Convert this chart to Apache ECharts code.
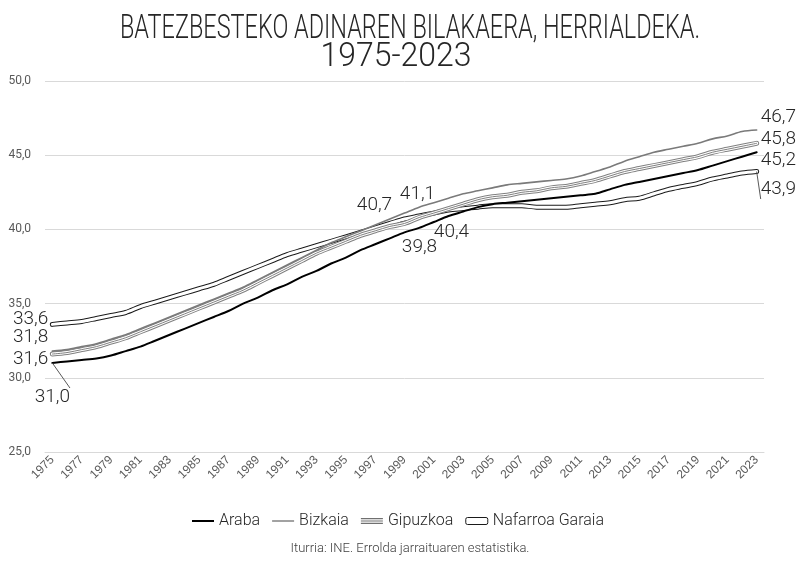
<!DOCTYPE html>
<html>
<head>
<meta charset="utf-8">
<title>Batezbesteko adinaren bilakaera</title>
<script src="https://cdn.jsdelivr.net/npm/echarts@6/dist/echarts.min.js"></script>
<style>
  html, body { margin: 0; padding: 0; background: #fff; }
  #main { width: 796px; height: 561px; }
</style>
</head>
<body>
<div id="main"></div>
<script>
// Urteak
const years = ['1975','1976','1977','1978','1979','1980','1981','1982','1983','1984',
  '1985','1986','1987','1988','1989','1990','1991','1992','1993','1994',
  '1995','1996','1997','1998','1999','2000','2001','2002','2003','2004',
  '2005','2006','2007','2008','2009','2010','2011','2012','2013','2014',
  '2015','2016','2017','2018','2019','2020','2021','2022','2023']

// Batezbesteko adina, herrialdeka (irudiatik irakurria)
const araba = [31.0,31.1,31.2,31.3,31.5,31.8,32.1,32.5,32.9,33.3,
  33.7,34.1,34.5,35.0,35.4,35.9,36.3,36.8,37.2,37.7,
  38.1,38.6,39.0,39.4,39.8,40.1,40.5,40.9,41.2,41.5,
  41.7,41.8,41.9,42.0,42.1,42.2,42.3,42.4,42.7,43.0,
  43.2,43.4,43.6,43.8,44.0,44.3,44.6,44.9,45.2]
const bizkaia = [31.8,31.9,32.1,32.3,32.6,32.9,33.3,33.7,34.1,34.5,
  34.9,35.3,35.7,36.1,36.6,37.1,37.6,38.1,38.6,39.1,
  39.5,39.9,40.3,40.7,41.1,41.5,41.8,42.1,42.4,42.6,
  42.8,43.0,43.1,43.2,43.3,43.4,43.6,43.9,44.2,44.6,
  44.9,45.2,45.4,45.6,45.8,46.1,46.3,46.6,46.7]
const gipuzkoa = [31.6,31.7,31.9,32.1,32.4,32.7,33.1,33.5,33.9,34.3,
  34.7,35.1,35.5,35.9,36.4,36.9,37.4,37.9,38.4,38.8,
  39.2,39.6,39.9,40.2,40.4,40.8,41.1,41.4,41.7,42.0,
  42.2,42.3,42.5,42.6,42.8,42.9,43.1,43.3,43.6,43.9,
  44.1,44.3,44.5,44.7,44.9,45.2,45.4,45.6,45.8]
const nafarroa = [33.6,33.7,33.8,34.0,34.2,34.4,34.8,35.1,35.4,35.7,
  36.0,36.3,36.7,37.1,37.5,37.9,38.3,38.6,38.9,39.2,
  39.5,39.8,40.1,40.4,40.7,40.9,41.1,41.3,41.4,41.5,
  41.6,41.6,41.6,41.5,41.5,41.5,41.6,41.7,41.8,42.0,
  42.1,42.4,42.7,42.9,43.1,43.4,43.6,43.8,43.9]

const yMin = 25
const yMax = 50
const yStep = 5

const FONT = 'Roboto, "Liberation Sans", sans-serif'
const toComma = (v) => v.toFixed(1).replace('.', ',')

// etiketen kokapenak (indizea -> posizioa)
const marks = {
  araba: { 0: { pos: 'bottom', dist: 25, off: [0, 0], guide: true }, 24: { pos: 'bottom', off: [15, 1] }, 48: { pos: 'right', off: [0, 8] } },
  bizkaia: { 0: { pos: 'left', dist: 4, off: [0, -14] }, 24: { pos: 'top', off: [13, -5] }, 48: { pos: 'right', off: [0, -13] } },
  gipuzkoa: { 0: { pos: 'left', dist: 4, off: [0, 5] }, 24: { pos: 'bottom', off: [47, -5] }, 48: { pos: 'right', off: [0, -4] } },
  nafarroa: { 0: { pos: 'left', dist: 4, off: [0, -5] }, 24: { pos: 'top', off: [-30, 0] }, 48: { pos: 'right', off: [0, 18], guide: true } }
}

const buildData = (values, spec) => values.map((v, i) => {
  const m = spec[i]
  if (!m) return v
  return {
    value: v,
    symbol: 'circle',
    symbolSize: 0.1,
    label: { show: true, position: m.pos, distance: m.dist ?? 4, offset: m.off },
    labelLine: { show: !!m.guide, smooth: false }
  }
})

const lineSeries = (name, data, color, width) => ({
  name: name,
  type: 'line',
  data: data,
  symbol: 'none',
  showSymbol: true,
  showAllSymbol: true,
  smooth: 0.3,
  silent: true,
  lineStyle: { color: color, width: width, cap: 'round', join: 'round' },
  itemStyle: { color: color },
  label: {
    show: false,
    fontFamily: FONT,
    fontWeight: 300,
    fontSize: 19,
    color: '#262626',
    formatter: (p) => toComma(p.value)
  },
  labelLine: { show: false, lineStyle: { color: '#595959', width: 1 } },
  emphasis: { disabled: true }
})

const series = [
  // Nafarroa: marra beltza barruan zuria
  lineSeries('Nafarroa Garaia', buildData(nafarroa, marks.nafarroa), '#1a1a1a', 5),
  lineSeries('Nafarroa Garaia (barrua)', nafarroa, '#ffffff', 3),
  // Gipuzkoa: marra bikoitza grisa
  lineSeries('Gipuzkoa', buildData(gipuzkoa, marks.gipuzkoa), '#808080', 5),
  lineSeries('Gipuzkoa (zuria)', gipuzkoa, '#ffffff', 3),
  lineSeries('Gipuzkoa (erdia)', gipuzkoa, '#808080', 1),
  lineSeries('Bizkaia', buildData(bizkaia, marks.bizkaia), '#7a7a7a', 1.6),
  lineSeries('Araba', buildData(araba, marks.araba), '#000000', 2)
]

const option = {
  animation: false,
  backgroundColor: '#ffffff',
  grid: { left: 45, right: 32, top: 81, bottom: 109 },
  graphic: [
    {
      type: 'text', x: 410, y: 29, scaleX: 0.69,
      style: { text: 'BATEZBESTEKO ADINAREN BILAKAERA, HERRIALDEKA.', font: '300 34px ' + FONT, fill: '#262626', textAlign: 'center', textVerticalAlign: 'middle' }
    },
    {
      type: 'text', x: 396, y: 57, scaleX: 0.94,
      style: { text: '1975-2023', font: '300 34px ' + FONT, fill: '#262626', textAlign: 'center', textVerticalAlign: 'middle' }
    },
    {
      type: 'text', x: 410, y: 549,
      style: { text: 'Iturria: INE. Errolda jarraituaren estatistika.', font: '300 13px ' + FONT, fill: '#404040', textAlign: 'center', textVerticalAlign: 'middle' }
    }
  ],
  legend: {
    left: 'center',
    top: 508,
    itemWidth: 22,
    itemHeight: 7,
    itemGap: 12,
    textStyle: { fontFamily: FONT, fontWeight: 300, fontSize: 16, color: '#262626' },
    data: [
      { name: 'Araba', icon: 'path://M0,0H22V2H0Z', itemStyle: { color: '#000000', borderWidth: 0 } },
      { name: 'Bizkaia', icon: 'path://M0,0H22V1.4H0Z', itemStyle: { color: '#7a7a7a', borderWidth: 0 } },
      { name: 'Gipuzkoa', icon: 'path://M0,0H22V1.2H0Z M0,2.4H22V3.6H0Z M0,4.8H22V6H0Z', itemStyle: { color: '#707070', borderWidth: 0 } },
      { name: 'Nafarroa Garaia', icon: 'roundRect', itemStyle: { color: '#ffffff', borderColor: '#1a1a1a', borderWidth: 1 } }
    ]
  },
  xAxis: {
    type: 'category',
    data: years,
    boundaryGap: true,
    axisLine: { lineStyle: { color: '#d9d9d9' } },
    axisTick: { show: false },
    axisLabel: {
      interval: 1,
      rotate: 45,
      margin: 6,
      color: '#595959',
      fontSize: 12,
      fontFamily: '"Liberation Sans", sans-serif'
    }
  },
  yAxis: {
    type: 'value',
    min: yMin,
    max: yMax,
    interval: yStep,
    axisLine: { show: false },
    axisTick: { show: false },
    splitLine: { lineStyle: { color: '#d9d9d9' } },
    axisLabel: {
      margin: 14,
      color: '#595959',
      fontSize: 12,
      fontFamily: FONT,
      formatter: (v) => toComma(v)
    }
  },
  series: series
}

const myChart = echarts.init(document.getElementById('main'), null, { renderer: 'canvas' })
myChart.setOption(option)
</script>
</body>
</html>
